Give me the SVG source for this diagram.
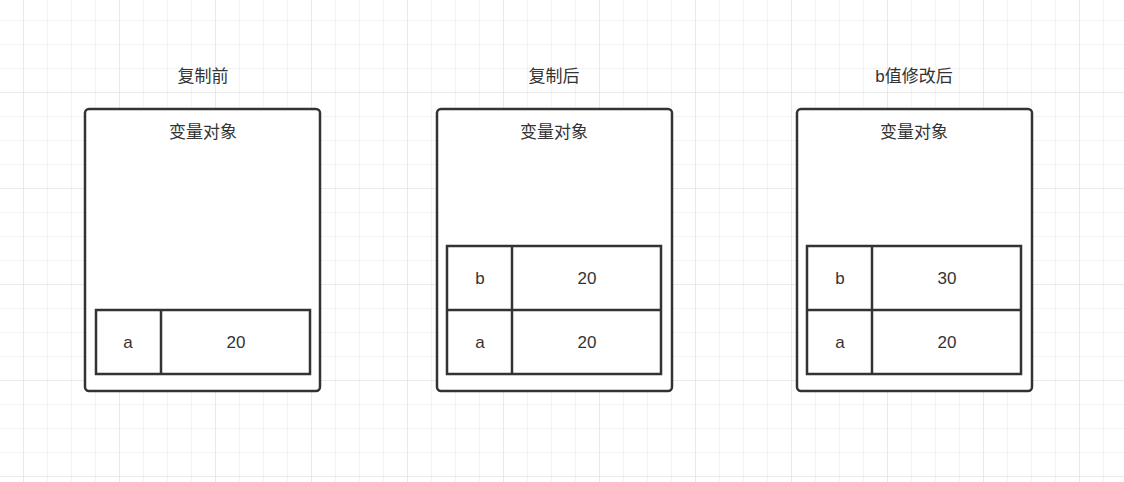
<svg xmlns="http://www.w3.org/2000/svg" width="1124" height="482" viewBox="0 0 1124 482">
<defs>
<pattern id="g" x="23" y="20" width="24" height="24" patternUnits="userSpaceOnUse">
<path d="M0 0H24M0 0V24" fill="none" stroke="#e8e8e8" stroke-width="1"/>
</pattern>
<pattern id="G" x="119" y="92" width="96" height="96" patternUnits="userSpaceOnUse">
<path d="M0 0H96M0 0V96" fill="none" stroke="#e0e0e0" stroke-width="1"/>
</pattern>
<style>
.box{fill:#fff;stroke:#333;stroke-width:2.5}
.cell{fill:#fff;stroke:#333;stroke-width:2.5}
text{font-family:"Liberation Sans","Noto Sans CJK SC",sans-serif;font-size:17px;fill:#333;text-anchor:middle}
</style>
</defs>
<rect width="1124" height="482" fill="#fff"/>
<rect width="1124" height="482" fill="url(#g)"/>
<rect width="1124" height="482" fill="url(#G)"/>
<g id="title1"><text x="203" y="82">复制前</text></g>
<g id="title2"><text x="554" y="82">复制后</text></g>
<g id="title3"><text x="914" y="82">b值修改后</text></g>
<g id="node1">
<rect class="box" x="85" y="109" width="235" height="282" rx="4"/>
<text x="203" y="138">变量对象</text>
<rect class="cell" x="96" y="310" width="214" height="64"/>
<line x1="161" y1="310" x2="161" y2="374" stroke="#333" stroke-width="2.5"/>
<text x="128" y="348">a</text><text x="236" y="348">20</text>
</g>
<g id="node2">
<rect class="box" x="437" y="109" width="235" height="282" rx="4"/>
<text x="554" y="138">变量对象</text>
<rect class="cell" x="447" y="246" width="214" height="128"/>
<line x1="447" y1="310" x2="661" y2="310" stroke="#333" stroke-width="2.5"/>
<line x1="512" y1="246" x2="512" y2="374" stroke="#333" stroke-width="2.5"/>
<text x="480" y="284">b</text><text x="587" y="284">20</text>
<text x="480" y="348">a</text><text x="587" y="348">20</text>
</g>
<g id="node3">
<rect class="box" x="797" y="109" width="235" height="282" rx="4"/>
<text x="914" y="138">变量对象</text>
<rect class="cell" x="807" y="246" width="214" height="128"/>
<line x1="807" y1="310" x2="1021" y2="310" stroke="#333" stroke-width="2.5"/>
<line x1="872" y1="246" x2="872" y2="374" stroke="#333" stroke-width="2.5"/>
<text x="840" y="284">b</text><text x="947" y="284">30</text>
<text x="840" y="348">a</text><text x="947" y="348">20</text>
</g>
<g id="connectors"/>
</svg>
